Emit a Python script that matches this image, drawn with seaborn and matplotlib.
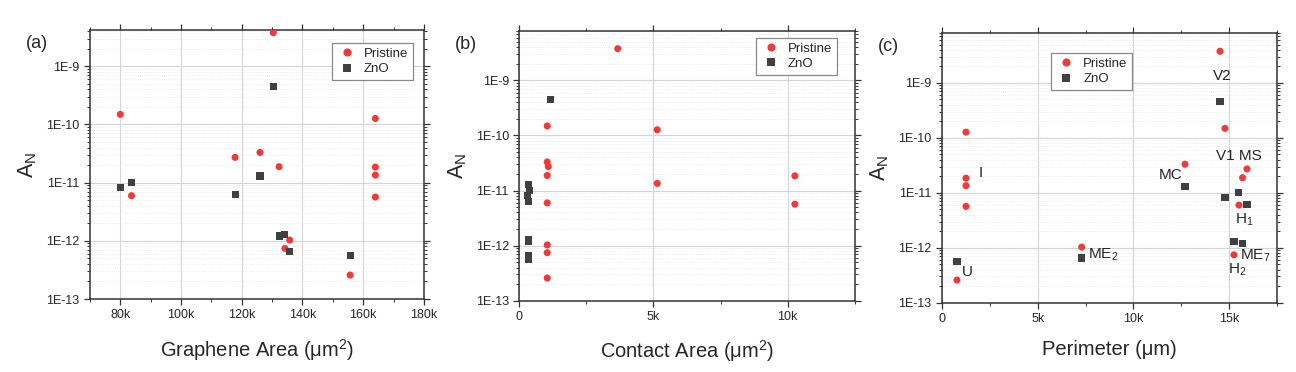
import numpy as np
import pandas as pd
import seaborn as sns
import matplotlib
matplotlib.use('Agg')
import matplotlib.pyplot as plt
from matplotlib.ticker import FuncFormatter, MultipleLocator, LogLocator, NullFormatter

# A_N values (same samples in all three panels)
pristine_an = [3.77e-9, 1.49e-10, 2.72e-11, 3.31e-11, 1.88e-11, 7.43e-13, 1.03e-12,
               2.58e-13, 5.97e-12, 1.27e-10, 1.85e-11, 1.35e-11, 5.66e-12]
zno_an = [8.18e-12, 9.97e-12, 6.21e-12, 1.30e-11, 4.57e-10, 1.21e-12, 1.29e-12,
          6.5e-13, 5.6e-13]

# graphene area (um^2)
pristine_area = [130.4e3, 80.0e3, 117.8e3, 126.0e3, 132.3e3, 134.2e3, 135.8e3,
                 155.7e3, 83.7e3, 164.0e3, 164.0e3, 164.0e3, 164.0e3]
zno_area = [80.0e3, 83.7e3, 117.8e3, 126.0e3, 130.4e3, 132.3e3, 134.2e3, 135.8e3, 155.7e3]

# contact area (um^2)
pristine_contact = [3.67e3, 1.04e3, 1.08e3, 1.04e3, 1.04e3, 1.04e3, 1.04e3,
                    1.04e3, 1.04e3, 5.14e3, 10.27e3, 5.14e3, 10.27e3]
zno_contact = [0.31e3, 0.38e3, 0.33e3, 0.33e3, 1.15e3, 0.33e3, 0.33e3, 0.33e3, 0.33e3]

# perimeter (um)
pristine_perim = [14.53e3, 14.79e3, 15.94e3, 12.70e3, 15.71e3, 15.26e3, 7.30e3,
                  0.78e3, 15.52e3, 1.25e3, 1.25e3, 1.25e3, 1.25e3]
zno_perim = [14.79e3, 15.52e3, 15.94e3, 12.70e3, 14.53e3, 15.71e3, 15.26e3, 7.30e3, 0.78e3]

# sample labels in panel (c)
label_text = ['I', 'U', 'ME$_2$', 'MC', 'V2', 'V1 MS', 'H$_1$', 'ME$_7$', 'H$_2$']
label_x = [1.93e3, 1.06e3, 7.63e3, 11.34e3, 14.16e3, 14.34e3, 15.31e3, 15.56e3, 14.97e3]
label_y = [2.25e-11, 3.66e-13, 7.56e-13, 2.1e-11, 1.32e-9, 4.64e-11, 3.27e-12, 7.16e-13, 3.93e-13]

sns.set_style('ticks')
plt.rcParams['font.family'] = ['Liberation Sans', 'DejaVu Sans']
plt.rcParams['mathtext.default'] = 'regular'

RED = '#f03a3a'
GREY = '#404040'


def make_df(xp, xz):
    return pd.DataFrame({
        'x': list(xp) + list(xz),
        'y': pristine_an + zno_an,
        'group': ['Pristine'] * len(xp) + ['ZnO'] * len(xz),
    })


def k_fmt(v, pos):
    if v == 0:
        return '0'
    return f'{v / 1000:g}k'


def e_fmt(v, pos):
    return f'1E{int(round(np.log10(v)))}'


fig = plt.figure(figsize=(12.96, 3.72), dpi=100)
axes = [
    fig.add_axes([0.0694, 0.1962, 0.2577, 0.7231]),
    fig.add_axes([0.4007, 0.1917, 0.2588, 0.7258]),
    fig.add_axes([0.7269, 0.1863, 0.2583, 0.7242]),
]

panels = [
    (pristine_area, zno_area, 'Graphene Area (μm$^2$)', (70e3, 180e3), 20e3, 10e3, 4.2e-9, '(a)'),
    (pristine_contact, zno_contact, 'Contact Area (μm$^2$)', (0, 12.5e3), 5e3, 2.5e3, 8e-9, '(b)'),
    (pristine_perim, zno_perim, 'Perimeter (μm)', (0, 17.5e3), 5e3, 2.5e3, 8e-9, '(c)'),
]
legend_pos = [('upper right', (0.967, 0.952)), ('upper right', (0.947, 0.974)),
              ('upper left', (0.325, 0.927))]

for i, (ax, (xp, xz, xlabel, xlim, major, minor, ytop, tag)) in enumerate(zip(axes, panels)):
    df = make_df(xp, xz)
    sns.scatterplot(data=df, x='x', y='y', hue='group', style='group',
                    palette={'Pristine': RED, 'ZnO': GREY},
                    markers={'Pristine': 'o', 'ZnO': 's'},
                    s=26, linewidth=0, ax=ax, zorder=3)
    ax.set_yscale('log')
    ax.set_ylim(1e-13, ytop)
    ax.set_xlim(*xlim)
    ax.xaxis.set_major_locator(MultipleLocator(major))
    ax.xaxis.set_minor_locator(MultipleLocator(minor))
    ax.xaxis.set_major_formatter(FuncFormatter(k_fmt))
    ax.yaxis.set_major_locator(LogLocator(base=10, numticks=20))
    ax.yaxis.set_minor_locator(LogLocator(base=10, subs=np.arange(2, 10), numticks=20))
    ax.yaxis.set_major_formatter(FuncFormatter(e_fmt))
    ax.yaxis.set_minor_formatter(NullFormatter())

    ax.grid(True, which='major', color='#d4d4d4', linewidth=0.8, zorder=0)
    ax.grid(True, which='minor', axis='y', color='#e2e2e2', linewidth=0.5,
            linestyle=':', zorder=0)
    ax.set_axisbelow(True)
    ax.tick_params(which='both', direction='out', labelsize=9, color='#333333')
    ax.tick_params(which='both', top=True, right=True)
    ax.tick_params(which='major', length=4, width=0.9)
    ax.tick_params(which='minor', length=2, width=0.7)
    for sp in ax.spines.values():
        sp.set_color('#333333')
        sp.set_linewidth(1.1)

    ax.set_xlabel(xlabel, fontsize=14.5, labelpad=11)
    ax.set_ylabel('A$_N$', fontsize=15.5, labelpad=5)
    ax.text(-0.16, 0.95, tag, transform=ax.transAxes, fontsize=13,
            ha='center', va='center')

    handles, labels = ax.get_legend_handles_labels()
    loc, anchor = legend_pos[i]
    leg = ax.legend(handles, labels, loc=loc, bbox_to_anchor=anchor,
                    borderaxespad=0, fontsize=9.5, frameon=True, fancybox=False,
                    framealpha=1, edgecolor='#888888', handletextpad=0.5,
                    handlelength=1.6, borderpad=0.35, labelspacing=0.25,
                    markerscale=1.15)
    leg.get_frame().set_linewidth(0.9)

# sample labels in panel (c)
for t, x, y in zip(label_text, label_x, label_y):
    axes[2].text(x, y, t, fontsize=11, ha='left', va='center', zorder=4)

fig.savefig('out.png', dpi=100)
